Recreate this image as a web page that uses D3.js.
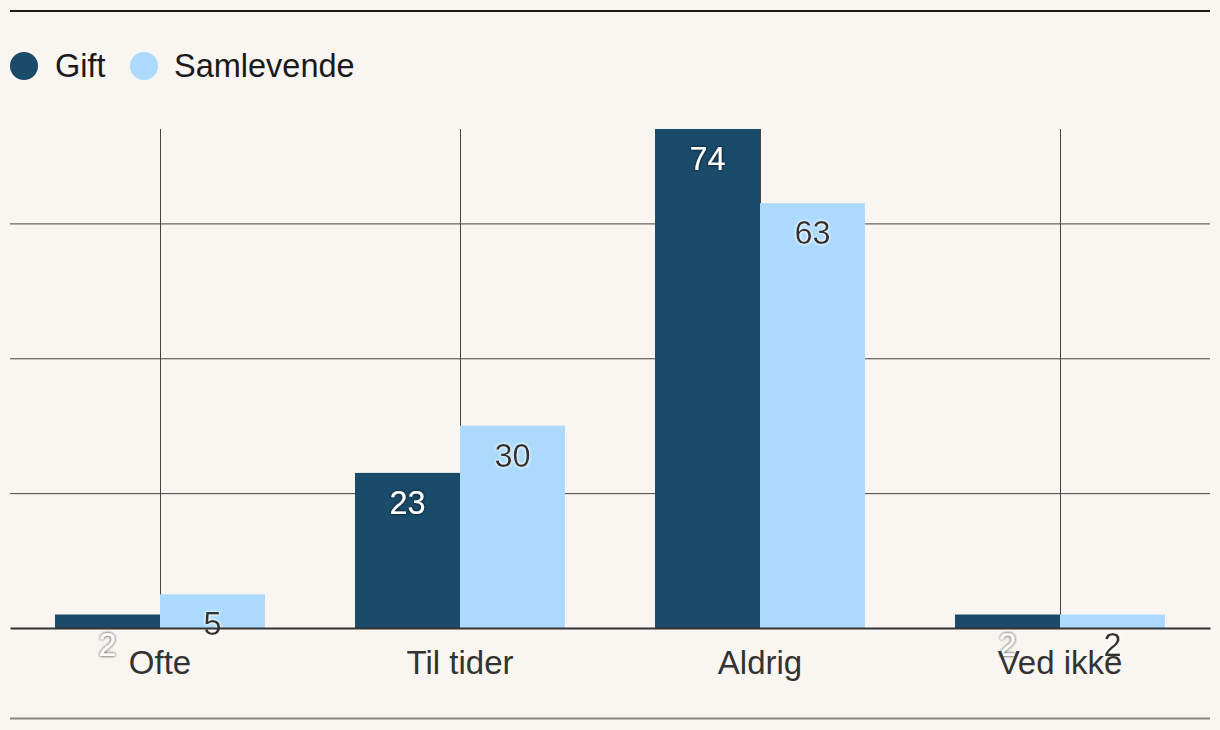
<!DOCTYPE html>
<html><head><meta charset="utf-8">
<script src="https://cdn.jsdelivr.net/npm/d3@7"></script>
<style>
html,body{margin:0;padding:0;background:#f9f6f2;}
svg{display:block;font-family:"Liberation Sans",Arial,sans-serif;}
</style></head>
<body>
<svg id="chart" width="1220" height="730"></svg>
<script>
const categories = ["Ofte", "Til tider", "Aldrig", "Ved ikke"];
const seriesNames = ["Gift", "Samlevende"];
const gift = [2, 23, 74, 2];
const samlevende = [5, 30, 63, 2];
const yTicks = [20, 40, 60];
const colors = ["#1a4b6b", "#acdafd"];
const labelColors = ["#ffffff", "#333333"];

(function () {
const svg = d3.select("#chart");
const W = 1220, H = 730;
const plotLeft = 10, plotRight = 1210, plotTop = 129, base = 628;

const defs = svg.append("defs");
function halo(id, color, op) {
  const f = defs.append("filter").attr("id", id).attr("x", "-50%").attr("y", "-50%").attr("width", "200%").attr("height", "200%");
  f.append("feGaussianBlur").attr("in", "SourceAlpha").attr("stdDeviation", 1.8).attr("result", "b");
  f.append("feFlood").attr("flood-color", color).attr("flood-opacity", op);
  f.append("feComposite").attr("in2", "b").attr("operator", "in").attr("result", "s");
  const m = f.append("feMerge");
  m.append("feMergeNode").attr("in", "s");
  m.append("feMergeNode").attr("in", "s");
  m.append("feMergeNode").attr("in", "SourceGraphic");
}
halo("haloDark", "#000000", 0.5);
halo("haloLight", "#ffffff", 0.9);

svg.append("rect").attr("width", W).attr("height", H).attr("fill", "#f9f6f2");

svg.append("line").attr("x1", 10).attr("x2", 1210).attr("y1", 11).attr("y2", 11).attr("stroke", "#1a1a1a").attr("stroke-width", 2);
svg.append("line").attr("x1", 10).attr("x2", 1210).attr("y1", 718.5).attr("y2", 718.5).attr("stroke", "#8a8580").attr("stroke-width", 2);

const legend = svg.append("g");
const legendItems = [{x: 24, tx: 55}, {x: 144, tx: 174}];
seriesNames.forEach((n, i) => {
  legend.append("circle").attr("cx", legendItems[i].x).attr("cy", 66).attr("r", 14).attr("fill", colors[i]);
  legend.append("text").attr("x", legendItems[i].tx).attr("y", 77).attr("font-size", 32.5).attr("fill", "#1a1a1a").text(n);
});

const x = d3.scaleBand().domain(categories).range([plotLeft, plotRight]).padding(0);
const x1 = d3.scaleBand().domain(seriesNames).range([x.bandwidth() * 0.15, x.bandwidth() * 0.85]).padding(0);
const y = d3.scaleLinear().domain([0, 74]).range([base, plotTop]);

svg.append("g").attr("transform", `translate(${plotLeft},0)`)
  .call(d3.axisRight(y).tickValues(yTicks).tickSize(plotRight - plotLeft).tickFormat(""))
  .call(g => g.select(".domain").remove())
  .call(g => g.selectAll(".tick line").attr("stroke", "#444").attr("stroke-width", 1));

svg.append("g").selectAll("line").data(categories).join("line")
  .attr("x1", d => Math.round(x(d) + x.bandwidth() / 2) + 0.5)
  .attr("x2", d => Math.round(x(d) + x.bandwidth() / 2) + 0.5)
  .attr("y1", y(74)).attr("y2", base)
  .attr("stroke", "#444").attr("stroke-width", 1);

const data = categories.map((c, i) => ({c, vals: [gift[i], samlevende[i]]}));

const groups = svg.append("g").selectAll("g").data(data).join("g")
  .attr("transform", d => `translate(${x(d.c)},0)`);

groups.selectAll("rect").data(d => d.vals.map((v, i) => ({v, i, s: seriesNames[i]}))).join("rect")
  .attr("x", d => x1(d.s)).attr("width", x1.bandwidth())
  .attr("y", d => y(d.v)).attr("height", d => base - y(d.v))
  .attr("fill", d => colors[d.i]);

svg.append("g").attr("transform", `translate(0,${base})`)
  .call(d3.axisBottom(x).tickSize(0).tickPadding(0).tickFormat(""))
  .call(g => g.select(".domain").attr("stroke", "#333").attr("stroke-width", 2));

svg.append("g").selectAll("text").data(categories).join("text")
  .attr("x", d => x(d) + x.bandwidth() / 2).attr("y", 674)
  .attr("text-anchor", "middle").attr("font-size", 33).attr("fill", "#333")
  .text(d => d);

groups.selectAll("text.val").data(d => d.vals.map((v, i) => ({v, i, s: seriesNames[i]}))).join("text")
  .attr("class", "val")
  .attr("x", d => x1(d.s) + x1.bandwidth() / 2)
  .attr("y", d => y(d.v) + 41)
  .attr("text-anchor", "middle").attr("font-size", 32.5)
  .attr("fill", d => labelColors[d.i])
  .attr("filter", d => d.i === 0 ? "url(#haloDark)" : "url(#haloLight)")
  .text(d => d.v);
})();
</script>
</body></html>
